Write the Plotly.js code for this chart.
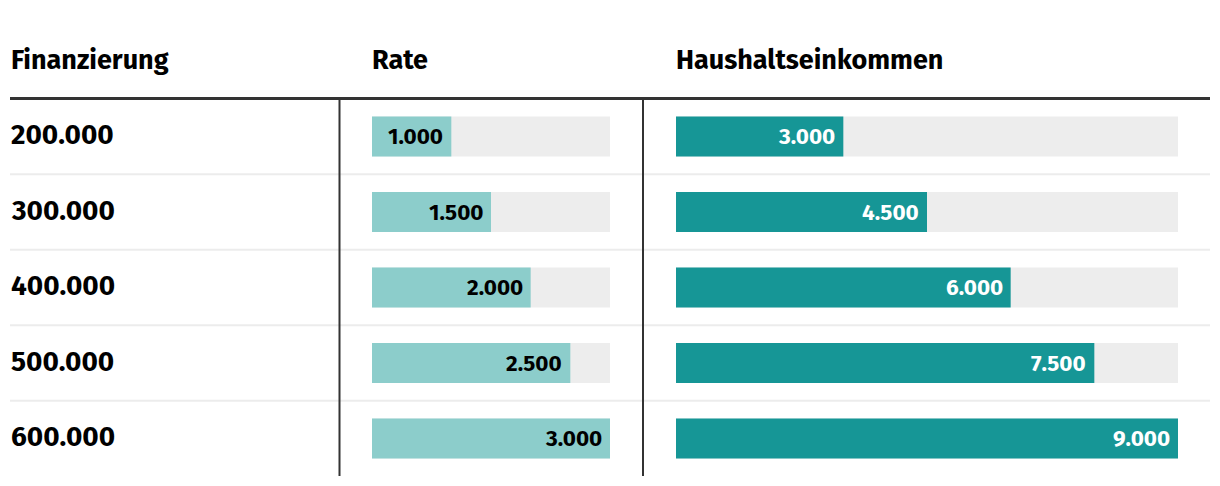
<!DOCTYPE html>
<html>
<head>
<meta charset="utf-8">
<script src="https://cdn.plot.ly/plotly-3.0.1.min.js"></script>
<style>
html,body{margin:0;padding:0;background:#fff;}
#chart{width:1220px;height:486px;}
</style>
</head>
<body>
<div id="chart"></div>
<script>
// ---- data ----
const financing = [200000, 300000, 400000, 500000, 600000];
const rate = [1000, 1500, 2000, 2500, 3000];
const income = [3000, 4500, 6000, 7500, 9000];
const headers = ['Finanzierung', 'Rate', 'Haushaltseinkommen'];
const rateMax = 3000;
const incomeMax = 9000;

// ---- helpers ----
const W = 1220, H = 486;
const px = v => v / W;
const py = v => 1 - v / H;
const fmt = n => String(n).replace(/\B(?=(\d{3})+(?!\d))/g, '.');
const idx = financing.map((_, i) => i);

const numFont = '"Fira Sans", Lato, "Open Sans", sans-serif';
const headFont = '"Fira Sans", Lato, sans-serif';

const barW = 0.53;
const traces = [
  {type: 'bar', orientation: 'h', x: idx.map(() => rateMax), y: idx, width: barW,
   marker: {color: '#ededed'}, xaxis: 'x', yaxis: 'y', hoverinfo: 'skip'},
  {type: 'bar', orientation: 'h', x: rate, y: idx, width: barW,
   marker: {color: '#8ccdcb'}, xaxis: 'x', yaxis: 'y', hoverinfo: 'skip'},
  {type: 'bar', orientation: 'h', x: idx.map(() => incomeMax), y: idx, width: barW,
   marker: {color: '#ededed'}, xaxis: 'x2', yaxis: 'y', hoverinfo: 'skip'},
  {type: 'bar', orientation: 'h', x: income, y: idx, width: barW,
   marker: {color: '#169696'}, xaxis: 'x2', yaxis: 'y', hoverinfo: 'skip'}
];

const annotations = [];
// headers
const headX = [9, 370, 674];
headers.forEach((h, i) => annotations.push({
  text: h, xref: 'paper', yref: 'paper', x: px(headX[i]), y: py(60),
  xanchor: 'left', yanchor: 'middle', showarrow: false,
  font: {family: headFont, size: 27, color: '#000', weight: 700}
}));
// row labels
financing.forEach((f, i) => annotations.push({
  text: fmt(f), xref: 'paper', yref: 'y', x: px(9), y: i, yshift: 2,
  xanchor: 'left', yanchor: 'middle', showarrow: false,
  font: {family: numFont, size: 28, color: '#000', weight: 700}
}));
// values
rate.forEach((v, i) => annotations.push({
  text: fmt(v), xref: 'x', yref: 'y', x: v, y: i, xshift: -6,
  xanchor: 'right', yanchor: 'middle', showarrow: false,
  font: {family: numFont, size: 22.5, color: '#000', weight: 700}
}));
income.forEach((v, i) => annotations.push({
  text: fmt(v), xref: 'x2', yref: 'y', x: v, y: i, xshift: -6,
  xanchor: 'right', yanchor: 'middle', showarrow: false,
  font: {family: numFont, size: 22.5, color: '#fff', weight: 700}
}));

const shapes = [];
idx.slice(0, -1).forEach(i => shapes.push({
  type: 'line', xref: 'paper', yref: 'y', x0: px(10), x1: px(1210), y0: i + 0.5, y1: i + 0.5,
  line: {color: '#ececec', width: 2}, layer: 'below'
}));
shapes.push({type: 'line', xref: 'paper', yref: 'paper', x0: px(10), x1: px(1210), y0: py(98.5), y1: py(98.5),
  line: {color: '#333', width: 3}});
[339.5, 643].forEach(x => shapes.push({
  type: 'line', xref: 'paper', yref: 'paper', x0: px(x), x1: px(x), y0: py(100), y1: py(476),
  line: {color: '#333', width: 2}
}));

const layout = {
  width: W, height: H,
  margin: {l: 0, r: 0, t: 0, b: 0},
  paper_bgcolor: '#fff', plot_bgcolor: 'rgba(0,0,0,0)',
  barmode: 'overlay', showlegend: false,
  xaxis: {domain: [px(372), px(610)], range: [0, rateMax], visible: false, fixedrange: true},
  xaxis2: {domain: [px(676), px(1178)], range: [0, incomeMax], visible: false, fixedrange: true, anchor: 'y'},
  yaxis: {domain: [py(476.25), py(98.75)], range: [4.5, -0.5], visible: false, fixedrange: true},
  annotations: annotations,
  shapes: shapes
};

Plotly.newPlot('chart', traces, layout, {displayModeBar: false, staticPlot: true});
</script>
</body>
</html>
